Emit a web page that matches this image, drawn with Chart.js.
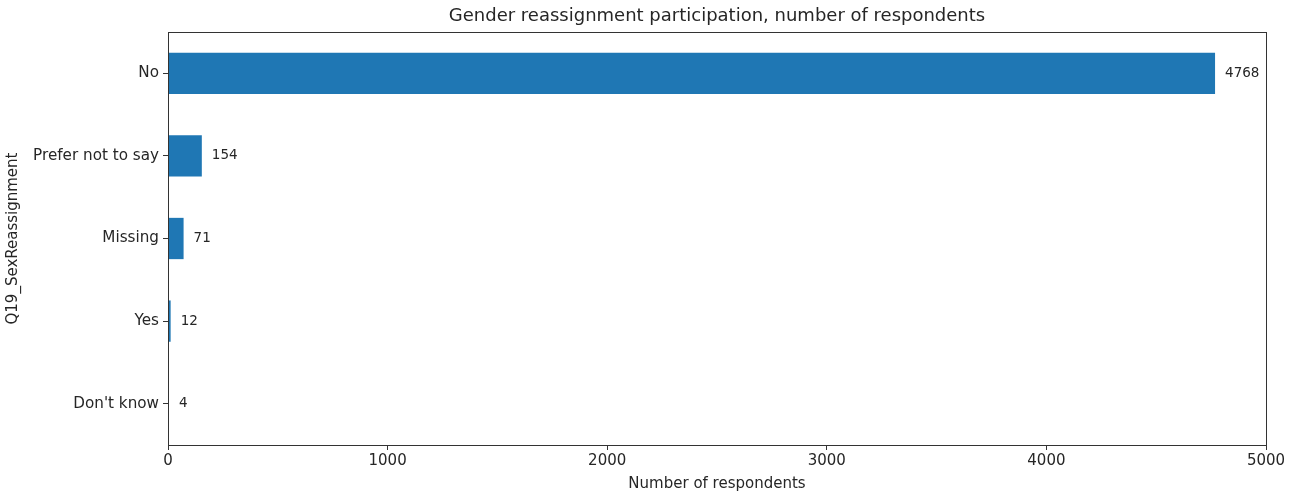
<!DOCTYPE html>
<html>
<head>
<meta charset="utf-8">
<script src="https://cdn.jsdelivr.net/npm/chart.js@4/dist/chart.umd.min.js"></script>
<style>
  html, body { margin: 0; padding: 0; background: #fff; }
  #wrap { width: 1294px; height: 495px; }
</style>
</head>
<body>
<div id="wrap"><canvas id="chart" width="1294" height="495"></canvas></div>
<script>
// answers to Q19, largest first
const answers = ["No", "Prefer not to say", "Missing", "Yes", "Don't know"];
const respondents = [4768, 154, 71, 12, 4];
const xTicks = [0, 1000, 2000, 3000, 4000, 5000];

const titleText = "Gender reassignment participation, number of respondents";
const font = "'DejaVu Sans', sans-serif";
const ink = "#262626";

// box around the plot plus the title above it
const frame = {
  id: "frame",
  afterDraw(chart) {
    const { ctx, chartArea: a } = chart;
    ctx.save();
    ctx.strokeStyle = "#333";
    ctx.lineWidth = 1;
    ctx.strokeRect(Math.round(a.left) + 0.5, Math.round(a.top) + 0.5,
      Math.round(a.right - a.left), Math.round(a.bottom - a.top));
    ctx.fillStyle = ink;
    ctx.font = "18px " + font;
    ctx.textAlign = "center";
    ctx.textBaseline = "middle";
    ctx.fillText(titleText, (a.left + a.right) / 2, 16);
    ctx.restore();
  }
};

// count printed just past the end of each bar
const barValues = {
  id: "barValues",
  afterDatasetsDraw(chart) {
    const { ctx } = chart;
    const meta = chart.getDatasetMeta(0);
    const x = chart.scales.x;
    ctx.save();
    ctx.fillStyle = ink;
    ctx.font = "13.5px " + font;
    ctx.textAlign = "left";
    ctx.textBaseline = "middle";
    meta.data.forEach((bar, i) => {
      const v = respondents[i];
      ctx.fillText(String(v), x.getPixelForValue(v) + 10, bar.y);
    });
    ctx.restore();
  }
};

const ctx = document.getElementById("chart").getContext("2d");
new Chart(ctx, {
  type: "bar",
  data: {
    labels: answers,
    datasets: [
      {
        data: respondents,
        backgroundColor: "#1f77b4",
        borderWidth: 0,
        barPercentage: 0.5,
        categoryPercentage: 1.0,
      },
    ],
  },
  options: {
    indexAxis: "y",
    responsive: false,
    animation: false,
    layout: { padding: { top: 32, right: 28, left: 0, bottom: 0 } },
    plugins: {
      legend: { display: false },
      title: { display: false },
      tooltip: { enabled: false },
    },
    scales: {
      x: {
        min: 0,
        max: 5000,
        afterBuildTicks: (s) => { s.ticks = xTicks.map((v) => ({ value: v })); },
        afterFit: (s) => { s.height = 50; },
        grid: { drawOnChartArea: false, tickLength: 5, color: "#333" },
        border: { display: true, color: "#333" },
        ticks: {
          color: ink,
          font: { family: font, size: 15 },
          padding: 2,
          maxRotation: 0,
          callback: (v) => String(v),
        },
        title: {
          display: true,
          text: "Number of respondents",
          color: ink,
          font: { family: font, size: 15 },
          padding: { top: 0, bottom: 2 },
        },
      },
      y: {
        afterFit: (s) => { s.width = 168; },
        grid: { drawOnChartArea: false, tickLength: 5, color: "#333", offset: false },
        border: { display: true, color: "#333" },
        ticks: { color: ink, font: { family: font, size: 15.2 }, padding: 4 },
        title: {
          display: true,
          text: "Q19_SexReassignment",
          color: ink,
          font: { family: font, size: 15 },
          padding: { top: 4, bottom: 0 },
        },
      },
    },
  },
  plugins: [frame, barValues],
});
</script>
</body>
</html>
